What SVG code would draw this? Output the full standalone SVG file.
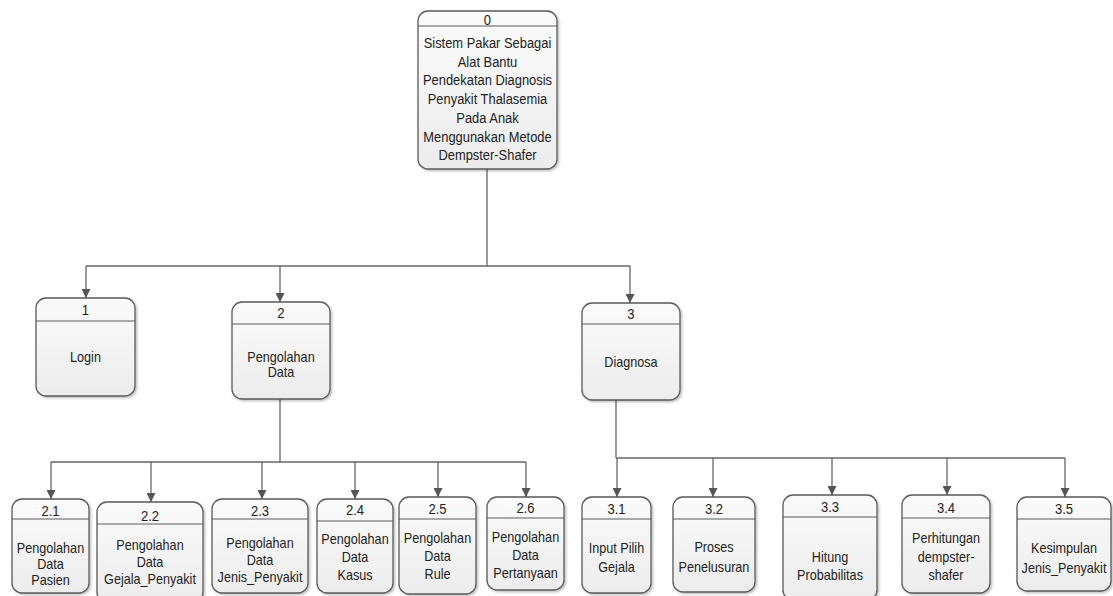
<svg xmlns="http://www.w3.org/2000/svg" width="1113" height="596" viewBox="0 0 1113 596">
<defs>
<linearGradient id="g" x1="0" y1="0" x2="0" y2="1">
<stop offset="0" stop-color="#fbfbfb"/>
<stop offset="1" stop-color="#ececec"/>
</linearGradient>
<filter id="sh" x="-10%" y="-10%" width="130%" height="130%">
<feDropShadow dx="1.5" dy="1.5" stdDeviation="1.2" flood-color="#000" flood-opacity="0.25"/>
</filter>
<marker id="ar" viewBox="0 0 10 10" refX="10" refY="5" markerWidth="9" markerHeight="9" markerUnits="userSpaceOnUse" orient="auto">
<path d="M0,0 L10,5 L0,10 z" fill="#555"/>
</marker>
</defs>
<style>
.box{fill:url(#g);stroke:#5a5a5a;stroke-width:1.3;filter:url(#sh)}
.hd{stroke:#5a5a5a;stroke-width:1.2}
.num{font-family:"Liberation Sans",Arial,sans-serif;font-size:15px;fill:#222;text-anchor:middle}
.lb{font-family:"Liberation Sans",Arial,sans-serif;font-size:14.5px;fill:#222;text-anchor:middle}
.lb0{font-family:"Liberation Sans",Arial,sans-serif;font-size:14.5px;fill:#222;text-anchor:middle}
.cn{fill:none;stroke:#666;stroke-width:1.3}
.ca{fill:none;stroke:#666;stroke-width:1.3;marker-end:url(#ar)}
</style>
<rect width="1113" height="596" fill="#fff"/>

<g id="connectors">
<path class="cn" d="M487,169 V266 M86,266 H630"/>
<path class="ca" d="M86,266 V298"/>
<path class="ca" d="M280,266 V302"/>
<path class="ca" d="M630,266 V303"/>
<path class="cn" d="M280,399 V462 M51,462 H526"/>
<path class="ca" d="M51,462 V499"/>
<path class="ca" d="M151,462 V502"/>
<path class="ca" d="M262,462 V499"/>
<path class="ca" d="M355,462 V499"/>
<path class="ca" d="M438,462 V497"/>
<path class="ca" d="M526,462 V497"/>
<path class="cn" d="M616,400 V458 M616,458 H1065"/>
<path class="ca" d="M617,458 V497"/>
<path class="ca" d="M713,458 V497"/>
<path class="ca" d="M832,458 V495"/>
<path class="ca" d="M947,458 V495"/>
<path class="ca" d="M1065,458 V497"/>
</g>

<g id="n0">
<rect class="box" x="418" y="11" width="139" height="158" rx="10"/>
<line class="hd" x1="418" y1="26" x2="557" y2="26"/>
<text class="num" transform="translate(487.5,24.5) scale(0.87,1)">0</text>
<text class="lb0" transform="translate(487.5,48) scale(0.89,1)">Sistem Pakar Sebagai</text>
<text class="lb0" transform="translate(487.5,66.7) scale(0.89,1)">Alat Bantu</text>
<text class="lb0" transform="translate(487.5,85.4) scale(0.89,1)">Pendekatan Diagnosis</text>
<text class="lb0" transform="translate(487.5,104.1) scale(0.89,1)">Penyakit Thalasemia</text>
<text class="lb0" transform="translate(487.5,122.8) scale(0.89,1)">Pada Anak</text>
<text class="lb0" transform="translate(487.5,141.5) scale(0.89,1)">Menggunakan Metode</text>
<text class="lb0" transform="translate(487.5,160.2) scale(0.89,1)">Dempster-Shafer</text>
</g>

<g id="n1">
<rect class="box" x="36" y="298" width="99" height="98" rx="10"/>
<line class="hd" x1="36" y1="321" x2="135" y2="321"/>
<text class="num" transform="translate(85.5,314.5) scale(0.87,1)">1</text>
<text class="lb" transform="translate(85.5,362) scale(0.87,1)">Login</text>
</g>

<g id="n2">
<rect class="box" x="232" y="302" width="98" height="97" rx="10"/>
<line class="hd" x1="232" y1="324" x2="330" y2="324"/>
<text class="num" transform="translate(281,317.5) scale(0.87,1)">2</text>
<text class="lb" transform="translate(281,361.5) scale(0.87,1)">Pengolahan</text>
<text class="lb" transform="translate(281,377) scale(0.87,1)">Data</text>
</g>

<g id="n3">
<rect class="box" x="582" y="303" width="98" height="97" rx="10"/>
<line class="hd" x1="582" y1="324" x2="680" y2="324"/>
<text class="num" transform="translate(631,318.5) scale(0.87,1)">3</text>
<text class="lb" transform="translate(631,366.5) scale(0.87,1)">Diagnosa</text>
</g>

<g id="n2_1">
<rect class="box" x="12" y="499" width="77" height="94" rx="10"/>
<line class="hd" x1="12" y1="519" x2="89" y2="519"/>
<text class="num" transform="translate(50.5,515.5) scale(0.87,1)">2.1</text>
<text class="lb" transform="translate(50.5,553) scale(0.87,1)">Pengolahan</text>
<text class="lb" transform="translate(50.5,569) scale(0.87,1)">Data</text>
<text class="lb" transform="translate(50.5,585) scale(0.87,1)">Pasien</text>
</g>

<g id="n2_2">
<rect class="box" x="97" y="502" width="106" height="100" rx="10"/>
<line class="hd" x1="97" y1="524" x2="203" y2="524"/>
<text class="num" transform="translate(150,520.5) scale(0.87,1)">2.2</text>
<text class="lb" transform="translate(150,550) scale(0.87,1)">Pengolahan</text>
<text class="lb" transform="translate(150,567) scale(0.87,1)">Data</text>
<text class="lb" transform="translate(150,584) scale(0.87,1)">Gejala_Penyakit</text>
</g>

<g id="n2_3">
<rect class="box" x="212" y="499" width="96" height="94" rx="10"/>
<line class="hd" x1="212" y1="519" x2="308" y2="519"/>
<text class="num" transform="translate(260,515.5) scale(0.87,1)">2.3</text>
<text class="lb" transform="translate(260,548) scale(0.87,1)">Pengolahan</text>
<text class="lb" transform="translate(260,565) scale(0.87,1)">Data</text>
<text class="lb" transform="translate(260,582) scale(0.87,1)">Jenis_Penyakit</text>
</g>

<g id="n2_4">
<rect class="box" x="317" y="499" width="76" height="94" rx="10"/>
<line class="hd" x1="317" y1="521" x2="393" y2="521"/>
<text class="num" transform="translate(355,514.5) scale(0.87,1)">2.4</text>
<text class="lb" transform="translate(355,544) scale(0.87,1)">Pengolahan</text>
<text class="lb" transform="translate(355,562) scale(0.87,1)">Data</text>
<text class="lb" transform="translate(355,580) scale(0.87,1)">Kasus</text>
</g>

<g id="n2_5">
<rect class="box" x="399" y="497" width="77" height="97" rx="10"/>
<line class="hd" x1="399" y1="519" x2="476" y2="519"/>
<text class="num" transform="translate(437.5,513.5) scale(0.87,1)">2.5</text>
<text class="lb" transform="translate(437.5,543) scale(0.87,1)">Pengolahan</text>
<text class="lb" transform="translate(437.5,561) scale(0.87,1)">Data</text>
<text class="lb" transform="translate(437.5,579) scale(0.87,1)">Rule</text>
</g>

<g id="n2_6">
<rect class="box" x="487" y="497" width="77" height="93" rx="10"/>
<line class="hd" x1="487" y1="518" x2="564" y2="518"/>
<text class="num" transform="translate(525.5,512.5) scale(0.87,1)">2.6</text>
<text class="lb" transform="translate(525.5,542) scale(0.87,1)">Pengolahan</text>
<text class="lb" transform="translate(525.5,560) scale(0.87,1)">Data</text>
<text class="lb" transform="translate(525.5,578) scale(0.87,1)">Pertanyaan</text>
</g>

<g id="n3_1">
<rect class="box" x="582" y="497" width="69" height="96" rx="10"/>
<line class="hd" x1="582" y1="519" x2="651" y2="519"/>
<text class="num" transform="translate(616.5,513.5) scale(0.87,1)">3.1</text>
<text class="lb" transform="translate(616.5,553) scale(0.87,1)">Input Pilih</text>
<text class="lb" transform="translate(616.5,572) scale(0.87,1)">Gejala</text>
</g>

<g id="n3_2">
<rect class="box" x="673" y="497" width="82" height="95" rx="10"/>
<line class="hd" x1="673" y1="519" x2="755" y2="519"/>
<text class="num" transform="translate(714,513.5) scale(0.87,1)">3.2</text>
<text class="lb" transform="translate(714,552) scale(0.87,1)">Proses</text>
<text class="lb" transform="translate(714,572) scale(0.87,1)">Penelusuran</text>
</g>

<g id="n3_3">
<rect class="box" x="783" y="495" width="94" height="105" rx="10"/>
<line class="hd" x1="783" y1="517" x2="877" y2="517"/>
<text class="num" transform="translate(830,511.5) scale(0.87,1)">3.3</text>
<text class="lb" transform="translate(830,562) scale(0.87,1)">Hitung</text>
<text class="lb" transform="translate(830,580) scale(0.87,1)">Probabilitas</text>
</g>

<g id="n3_4">
<rect class="box" x="902" y="495" width="88" height="98" rx="10"/>
<line class="hd" x1="902" y1="518" x2="990" y2="518"/>
<text class="num" transform="translate(946,512.5) scale(0.87,1)">3.4</text>
<text class="lb" transform="translate(946,543) scale(0.87,1)">Perhitungan</text>
<text class="lb" transform="translate(946,562) scale(0.87,1)">dempster-</text>
<text class="lb" transform="translate(946,580) scale(0.87,1)">shafer</text>
</g>

<g id="n3_5">
<rect class="box" x="1017" y="497" width="94" height="94" rx="10"/>
<line class="hd" x1="1017" y1="519" x2="1111" y2="519"/>
<text class="num" transform="translate(1064,513.5) scale(0.87,1)">3.5</text>
<text class="lb" transform="translate(1064,553) scale(0.87,1)">Kesimpulan</text>
<text class="lb" transform="translate(1064,573) scale(0.87,1)">Jenis_Penyakit</text>
</g>
</svg>
